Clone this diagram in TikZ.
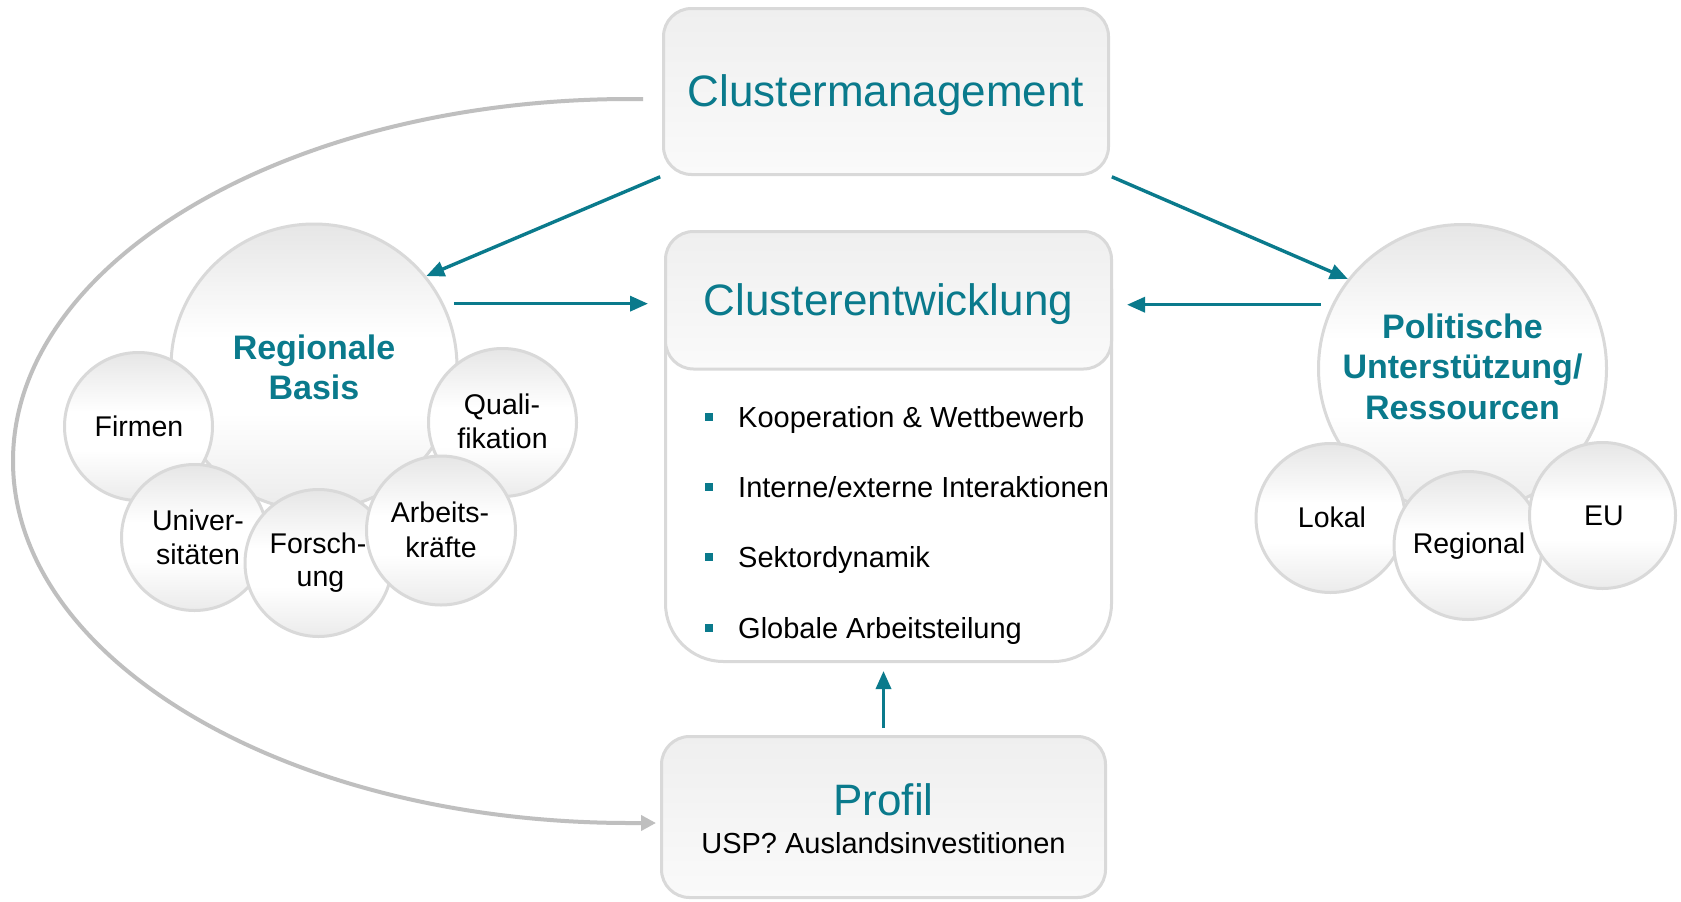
\documentclass[tikz,border=0pt]{standalone}
\usepackage{fontspec}
\setmainfont{Liberation Sans}
\usetikzlibrary{arrows.meta}
\definecolor{teal1}{HTML}{0A7A8C}
\definecolor{bord}{HTML}{D9D9D9}
\definecolor{curvegray}{HTML}{BFBFBF}
\definecolor{bubtop}{HTML}{E6E6E6}
\definecolor{bubbot}{HTML}{EBEBEB}
\definecolor{boxtop}{HTML}{EFEFEF}
\definecolor{boxbot}{HTML}{FAFAFA}
\pgfdeclareverticalshading{bubshade}{100bp}{color(0bp)=(bubbot); color(25bp)=(bubbot); color(42bp)=(white); color(55bp)=(white); color(75bp)=(bubtop); color(100bp)=(bubtop)}
\pgfdeclareverticalshading{boxshade}{100bp}{color(0bp)=(boxbot); color(25bp)=(boxbot); color(75bp)=(boxtop); color(100bp)=(boxtop)}
\begin{document}
\begin{tikzpicture}[x=1pt,y=-1pt,
  cbox/.style={draw=bord, line width=3pt, rounded corners=28pt, shading=boxshade, inner sep=0pt},
  bub/.style={circle, draw=bord, line width=3pt, shading=bubshade, inner sep=0pt},
  title/.style={text=teal1, font=\fontsize{44}{50}\selectfont, anchor=base, inner sep=0pt},
  ctext/.style={font=\fontsize{28.5}{34}\selectfont, anchor=base, inner sep=0pt},
  btitle/.style={text=teal1, font=\bfseries\fontsize{34}{40}\selectfont, anchor=base, inner sep=0pt},
  item/.style={font=\fontsize{29}{34}\selectfont, anchor=base west, inner sep=0pt},
  bullet/.style={fill=teal1, minimum size=8.5pt, inner sep=0pt},
  arr/.style={draw=teal1, line width=3.4pt, -{Triangle[length=18pt,width=15pt]}},
  garr/.style={draw=curvegray, line width=4pt, -{Triangle[length=15pt,width=15pt]}}]
\fill[white] (0,0) rectangle (1681,902);
\useasboundingbox (0,0) rectangle (1681,902);

% boxes
\node[cbox, minimum width=445pt, minimum height=166pt] (cm) at (886,91.5) {};
\node[title] (cmt) at (886,106) {Clustermanagement};

\node[draw=bord, line width=3pt, fill=white, rounded corners=58pt, minimum width=446pt, minimum height=430pt, inner sep=0pt] (ce) at (888.5,446.5) {};
\node[cbox, minimum width=446pt, minimum height=137.5pt] (ceh) at (888.5,300.25) {};
\node[title] (cet) at (888.5,315) {Clusterentwicklung};

\node[bullet] (b1) at (709,417) {};
\node[bullet] (b2) at (709,487) {};
\node[bullet] (b3) at (709,557) {};
\node[bullet] (b4) at (709,628) {};
\node[item] (i1) at (738,427) {Kooperation \& Wettbewerb};
\node[item] (i2) at (738,497) {Interne/externe Interaktionen};
\node[item] (i3) at (738,567) {Sektordynamik};
\node[item] (i4) at (738,638) {Globale Arbeitsteilung};

\node[cbox, minimum width=444pt, minimum height=161pt] (pr) at (883.5,817) {};
\node[title] (prt) at (883.5,815) {Profil};
\node[item, anchor=base] (pru) at (883.5,853) {USP? Auslandsinvestitionen};

% left cluster
\node[bub, minimum size=286pt] (rb) at (314,367) {};
\node[bub, minimum size=148pt] (fi) at (138.5,426.5) {};
\node[bub, minimum size=148pt] (qu) at (502.5,422.5) {};
\node[bub, minimum size=146pt] (un) at (194.5,537.5) {};
\node[bub, minimum size=147pt] (fo) at (318.5,563) {};
\node[bub, minimum size=149pt] (ab) at (441,530.5) {};

\node[btitle] (rbt1) at (314,359) {Regionale};
\node[btitle] (rbt2) at (314,399) {Basis};
\node[ctext] (fit) at (139,436) {Firmen};
\node[ctext] (qut1) at (502,414) {Quali-};
\node[ctext] (qut2) at (502.5,448) {fikation};
\node[ctext] (unt1) at (198,530) {Univer-};
\node[ctext] (unt2) at (198,564) {sitäten};
\node[ctext] (fot1) at (318,553) {Forsch-};
\node[ctext] (fot2) at (320.5,586) {ung};
\node[ctext] (abt1) at (440,522) {Arbeits-};
\node[ctext] (abt2) at (441,557) {kräfte};

% right cluster
\node[bub, minimum size=288pt] (pu) at (1462.5,368.5) {};
\node[bub, minimum size=149pt] (lo) at (1330.5,518) {};
\node[bub, minimum size=148pt] (re) at (1468,545.5) {};
\node[bub, minimum size=146pt] (eu) at (1602.5,515.5) {};

\node[btitle] (put1) at (1462.5,338) {Politische};
\node[btitle] (put2) at (1462.5,378) {Unterstützung/};
\node[btitle] (put3) at (1462.5,419) {Ressourcen};
\node[ctext] (lot) at (1332,527) {Lokal};
\node[ctext] (ret) at (1469,553) {Regional};
\node[ctext] (eut) at (1604,525) {EU};

% connectors
\draw[arr, shorten <=2pt] (cm.south west) -- (rb.39);
\draw[arr, shorten <=2pt] (cm.south east) -- (pu.142);
\draw[arr, shorten <=10pt, shorten >=16pt] (rb.26) -- (rb.26 -| ceh.west);
\draw[arr, shorten <=11pt, shorten >=14pt] (pu.154) -- (pu.154 -| ceh.east);
\draw[arr, shorten <=7pt, shorten >=8pt] (pr.north) -- (pr.north |- ce.south);

\coordinate (gs) at (643,99);
\draw[garr, shorten >=4pt] (gs) -- (630,99) arc[start angle=270, end angle=90, x radius=617, y radius=362] -- ([yshift=-6pt]pr.west);
\end{tikzpicture}
\end{document}
